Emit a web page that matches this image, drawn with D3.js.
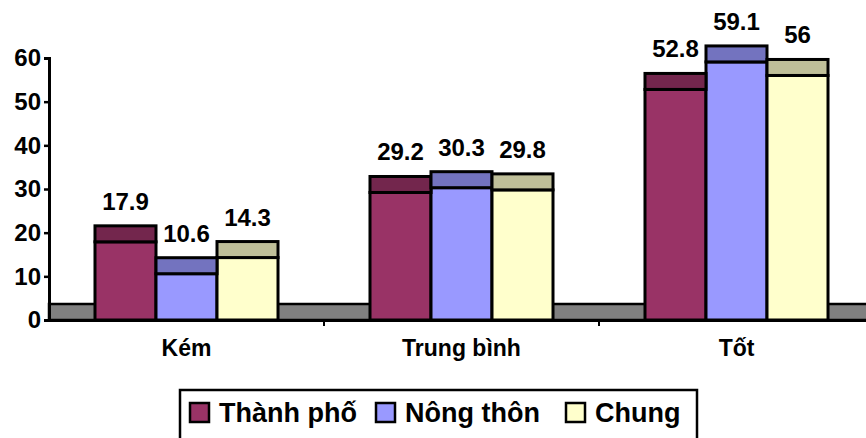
<!DOCTYPE html>
<html>
<head>
<meta charset="utf-8">
<script src="https://cdn.jsdelivr.net/npm/d3@7"></script>
<style>
  body { margin: 0; background: #fff; }
  svg { display: block; font-family: "Liberation Sans", Arial, sans-serif; font-weight: bold; }
</style>
</head>
<body>
<div id="chart"></div>
<script>
const categories = ['Kém', 'Trung bình', 'Tốt'];
const seriesNames = ['Thành phố', 'Nông thôn', 'Chung'];
const thanhPho = [17.9, 29.2, 52.8];
const nongThon = [10.6, 30.3, 59.1];
const chung = [14.3, 29.8, 56];
const yTicks = [0, 10, 20, 30, 40, 50, 60];

const frontColors = ['#993366', '#9999FF', '#FFFFCC'];
const topColors = ['#73264D', '#7373BF', '#BFBF99'];

const width = 866, height = 438;
const depth = 16;
const font = '"Liberation Sans", Arial, sans-serif';

const svg = d3.select('#chart').append('svg')
    .attr('width', width)
    .attr('height', height);

const x0 = d3.scaleBand().domain(categories).range([49, 874]);
const x1 = d3.scaleBand().domain(seriesNames).range([0, x0.bandwidth()]).paddingOuter(0.754);
const y = d3.scaleLinear().domain([0, 60]).range([320, 58]);

const values = [thanhPho, nongThon, chung];
const bars = [];
categories.forEach((c, i) => {
    seriesNames.forEach((s, j) => {
        bars.push({ cat: c, series: s, j: j, value: values[j][i] });
    });
});

// floor
svg.append('rect')
    .attr('x', x0.range()[0])
    .attr('y', y(0) - depth)
    .attr('width', width - x0.range()[0] + 10)
    .attr('height', depth)
    .attr('fill', '#808080')
    .attr('stroke', '#000')
    .attr('stroke-width', 2.5);

// bars: front face + top face
const g = svg.append('g');
g.selectAll('.front')
    .data(bars)
    .enter().append('rect')
    .attr('class', 'front')
    .attr('x', d => x0(d.cat) + x1(d.series))
    .attr('y', d => y(d.value))
    .attr('width', x1.bandwidth())
    .attr('height', d => y(0) - y(d.value))
    .attr('fill', d => frontColors[d.j])
    .attr('stroke', '#000')
    .attr('stroke-width', 3);

g.selectAll('.top')
    .data(bars)
    .enter().append('rect')
    .attr('class', 'top')
    .attr('x', d => x0(d.cat) + x1(d.series))
    .attr('y', d => y(d.value) - depth)
    .attr('width', x1.bandwidth())
    .attr('height', depth)
    .attr('fill', d => topColors[d.j])
    .attr('stroke', '#000')
    .attr('stroke-width', 3);

g.selectAll('.label')
    .data(bars)
    .enter().append('text')
    .attr('class', 'label')
    .attr('x', d => x0(d.cat) + x1(d.series) + x1.bandwidth() / 2)
    .attr('y', d => y(d.value) - depth - 16)
    .attr('text-anchor', 'middle')
    .attr('font-size', 24)
    .text(d => d.value);

// y axis
const yAxis = svg.append('g')
    .attr('transform', `translate(${x0.range()[0]},0)`)
    .call(d3.axisLeft(y).tickValues(yTicks).tickSize(5).tickPadding(3));
yAxis.select('.domain').attr('stroke', '#000').attr('stroke-width', 3);
yAxis.selectAll('.tick line').attr('stroke', '#000').attr('stroke-width', 2.5);
yAxis.selectAll('.tick text')
    .attr('font-size', 24)
    .attr('font-weight', 'bold')
    .attr('font-family', font)
    .attr('fill', '#000');

// x axis
const xAxis = svg.append('g')
    .attr('transform', `translate(0,${y(0)})`)
    .call(d3.axisBottom(x0).tickSize(0).tickPadding(20));
xAxis.select('.domain').attr('stroke', '#000').attr('stroke-width', 3);
xAxis.selectAll('.tick text')
    .attr('font-size', 23)
    .attr('font-weight', 'bold')
    .attr('font-family', font)
    .attr('fill', '#000');
svg.append('g').selectAll('line')
    .data(categories.slice(1))
    .enter().append('line')
    .attr('x1', d => x0(d)).attr('x2', d => x0(d))
    .attr('y1', y(0)).attr('y2', y(0) + 6)
    .attr('stroke', '#000').attr('stroke-width', 2);

// legend
const legend = svg.append('g');
legend.append('rect')
    .attr('x', 180).attr('y', 390)
    .attr('width', 517).attr('height', 50)
    .attr('fill', '#fff')
    .attr('stroke', '#000')
    .attr('stroke-width', 2.5);
const legendX = [190, 376, 566];
const item = legend.selectAll('.item')
    .data(seriesNames)
    .enter().append('g')
    .attr('transform', (d, i) => `translate(${legendX[i]},403)`);
item.append('rect')
    .attr('width', 19).attr('height', 19)
    .attr('fill', (d, i) => frontColors[i])
    .attr('stroke', '#000')
    .attr('stroke-width', 2.5);
item.append('text')
    .attr('x', 29).attr('y', 19)
    .attr('font-size', 27)
    .text(d => d);
</script>
</body>
</html>
